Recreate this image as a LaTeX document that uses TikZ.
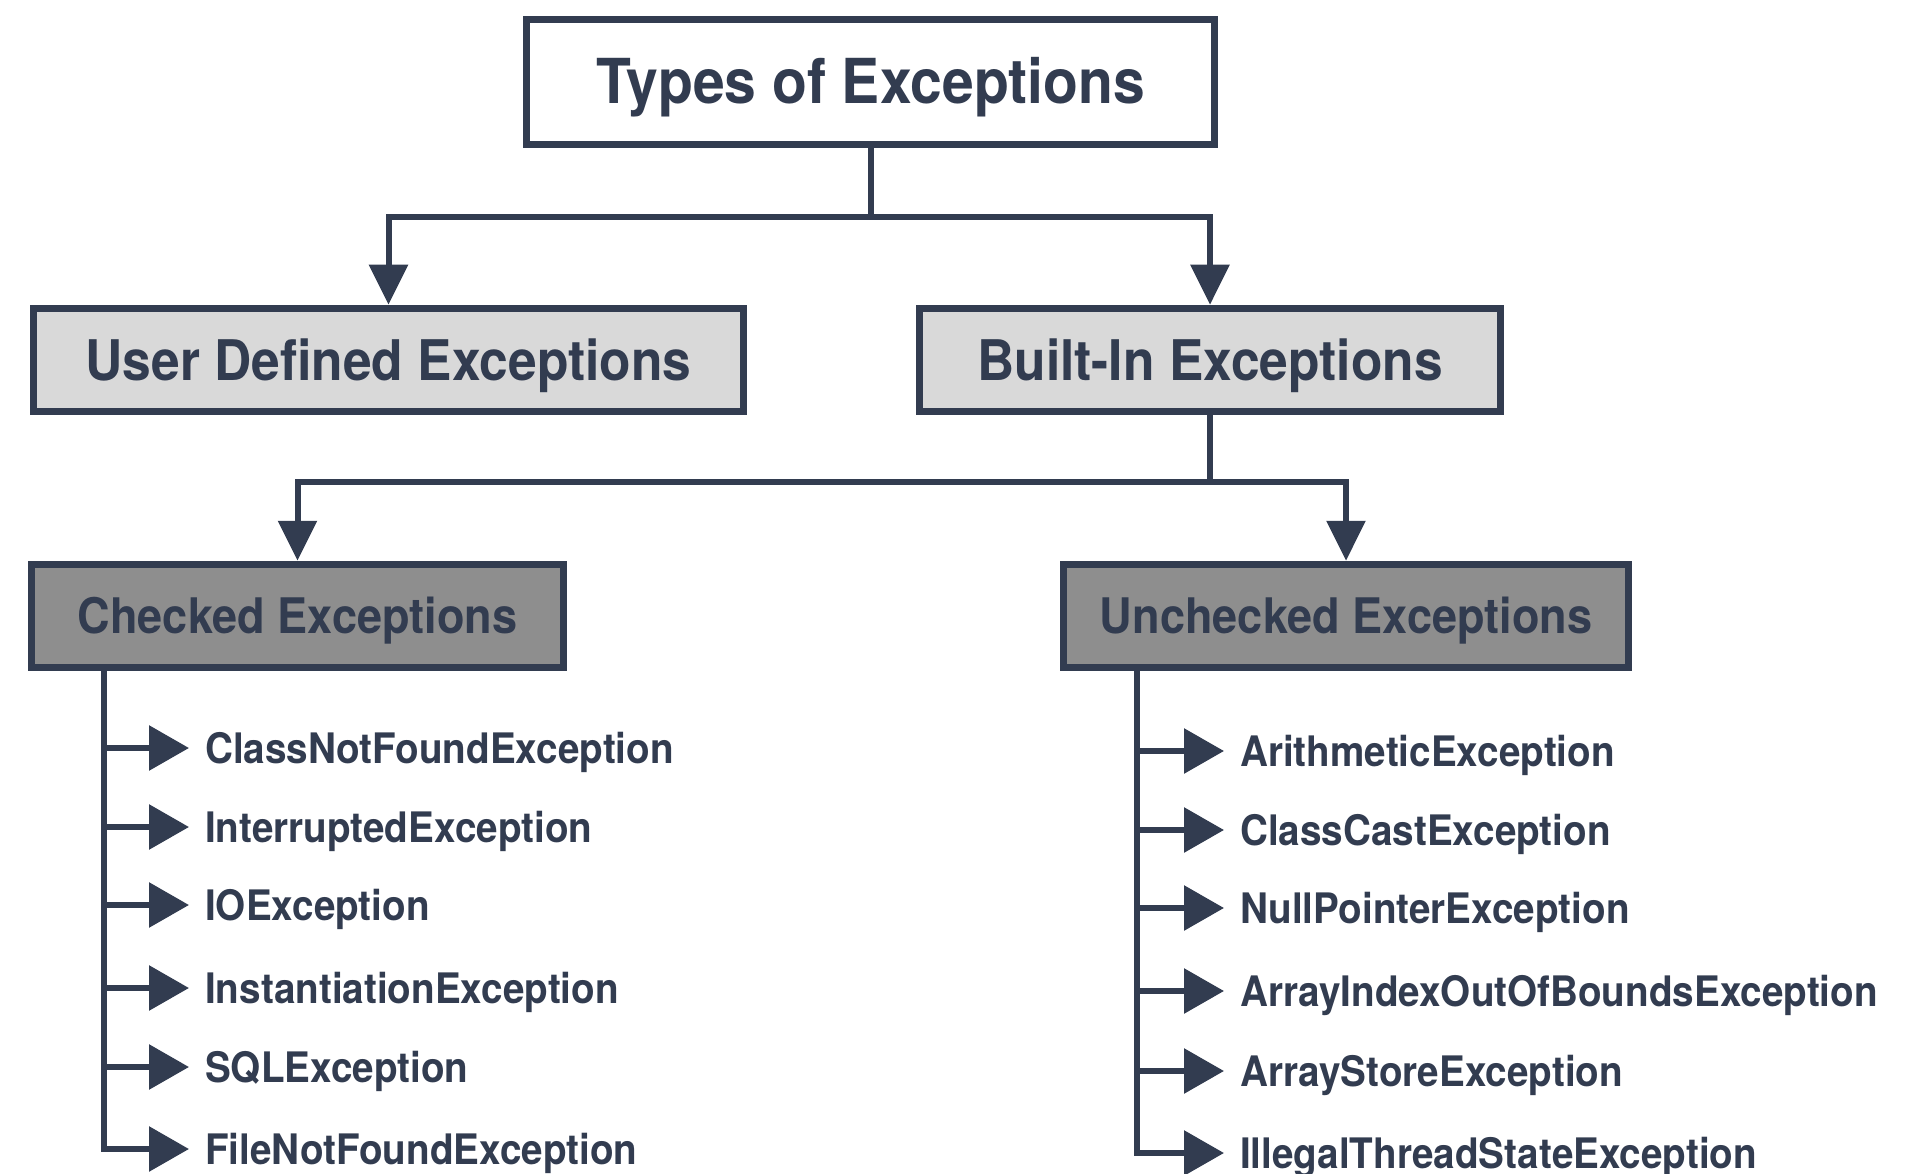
\documentclass[tikz,border=0pt]{standalone}
\usepackage{fontspec}
\setmainfont{TeX Gyre Heros}[FakeStretch=0.92]
\usetikzlibrary{arrows.meta}
\definecolor{ink}{HTML}{323C50}
\definecolor{lightbox}{HTML}{D9D9D9}
\definecolor{midbox}{HTML}{8E8E8E}

\begin{document}
\begin{tikzpicture}[x=1pt,y=-1pt,
  box/.style={draw=ink, line width=7.5pt, text=ink, inner sep=0pt, anchor=center, text depth=0pt},
  titlebox/.style={box, fill=white, minimum width=688pt, minimum height=125pt,
    font=\bfseries\fontsize{62}{70}\selectfont, text height=44pt},
  kindbox/.style={box, fill=lightbox, minimum height=103pt,
    font=\bfseries\fontsize{56}{62}\selectfont, text height=40pt},
  groupbox/.style={box, fill=midbox, minimum height=103pt,
    font=\bfseries\fontsize{49}{56}\selectfont, text height=35pt},
  item/.style={text=ink, inner sep=0pt, font=\bfseries\fontsize{42}{48}\selectfont,
    text height=30pt, text depth=0pt, anchor=base west},
  conn/.style={draw=ink, line width=6pt, line join=miter},
  down/.style={conn, -{Triangle[length=40pt,width=38pt]}},
  stub/.style={conn, -{Triangle[length=40pt,width=44pt]}, shorten >=16pt},
]
% page
\useasboundingbox (0,0) rectangle (1913,1174);
\path[fill=white] (0,0) rectangle (1913,1174);

% boxes
\node[titlebox] (top) at (870.5,82) {Types of Exceptions};
\node[kindbox, minimum width=710pt] (ud) at (388.5,360) {User Defined Exceptions};
\node[kindbox, minimum width=581pt] (bi) at (1210,360) {Built-In Exceptions};
\node[groupbox, minimum width=532pt] (ch) at (297.5,616) {Checked Exceptions};
\node[groupbox, minimum width=565pt] (un) at (1346,616) {Unchecked Exceptions};

% top level branches
\coordinate (j1) at (870.5,217);
\draw[conn] (top.south) -- (j1);
\draw[down] (j1) -| (ud.north);
\draw[down] (j1) -| (bi.north);

% built-in branches
\coordinate (j2) at (1210,482);
\draw[conn] (bi.south) -- (j2);
\draw[down] (j2) -| (ch.north);
\draw[down] (j2) -| (un.north);

% checked exceptions list
\foreach \t/\y [count=\i] in {ClassNotFoundException/748, InterruptedException/827,
  IOException/905, InstantiationException/988, SQLException/1067,
  FileNotFoundException/1149}
  \node[item] (c\i) at (205,\y+15) {\t};
\coordinate (lend) at (104,1149);
\draw[stub] (ch.south -| lend) |- (c6.west);
\foreach \i in {1,...,5}
  \draw[stub] (lend |- c\i.west) -- (c\i.west);

% unchecked exceptions list
\foreach \t/\y [count=\i] in {ArithmeticException/751, ClassCastException/830,
  NullPointerException/908, ArrayIndexOutOfBoundsException/991,
  ArrayStoreException/1071, IllegalThreadStateException/1153}
  \node[item] (u\i) at (1240,\y+15) {\t};
\coordinate (rend) at (1137,1153);
\draw[stub] (un.south -| rend) |- (u6.west);
\foreach \i in {1,...,5}
  \draw[stub] (rend |- u\i.west) -- (u\i.west);
\end{tikzpicture}
\end{document}
